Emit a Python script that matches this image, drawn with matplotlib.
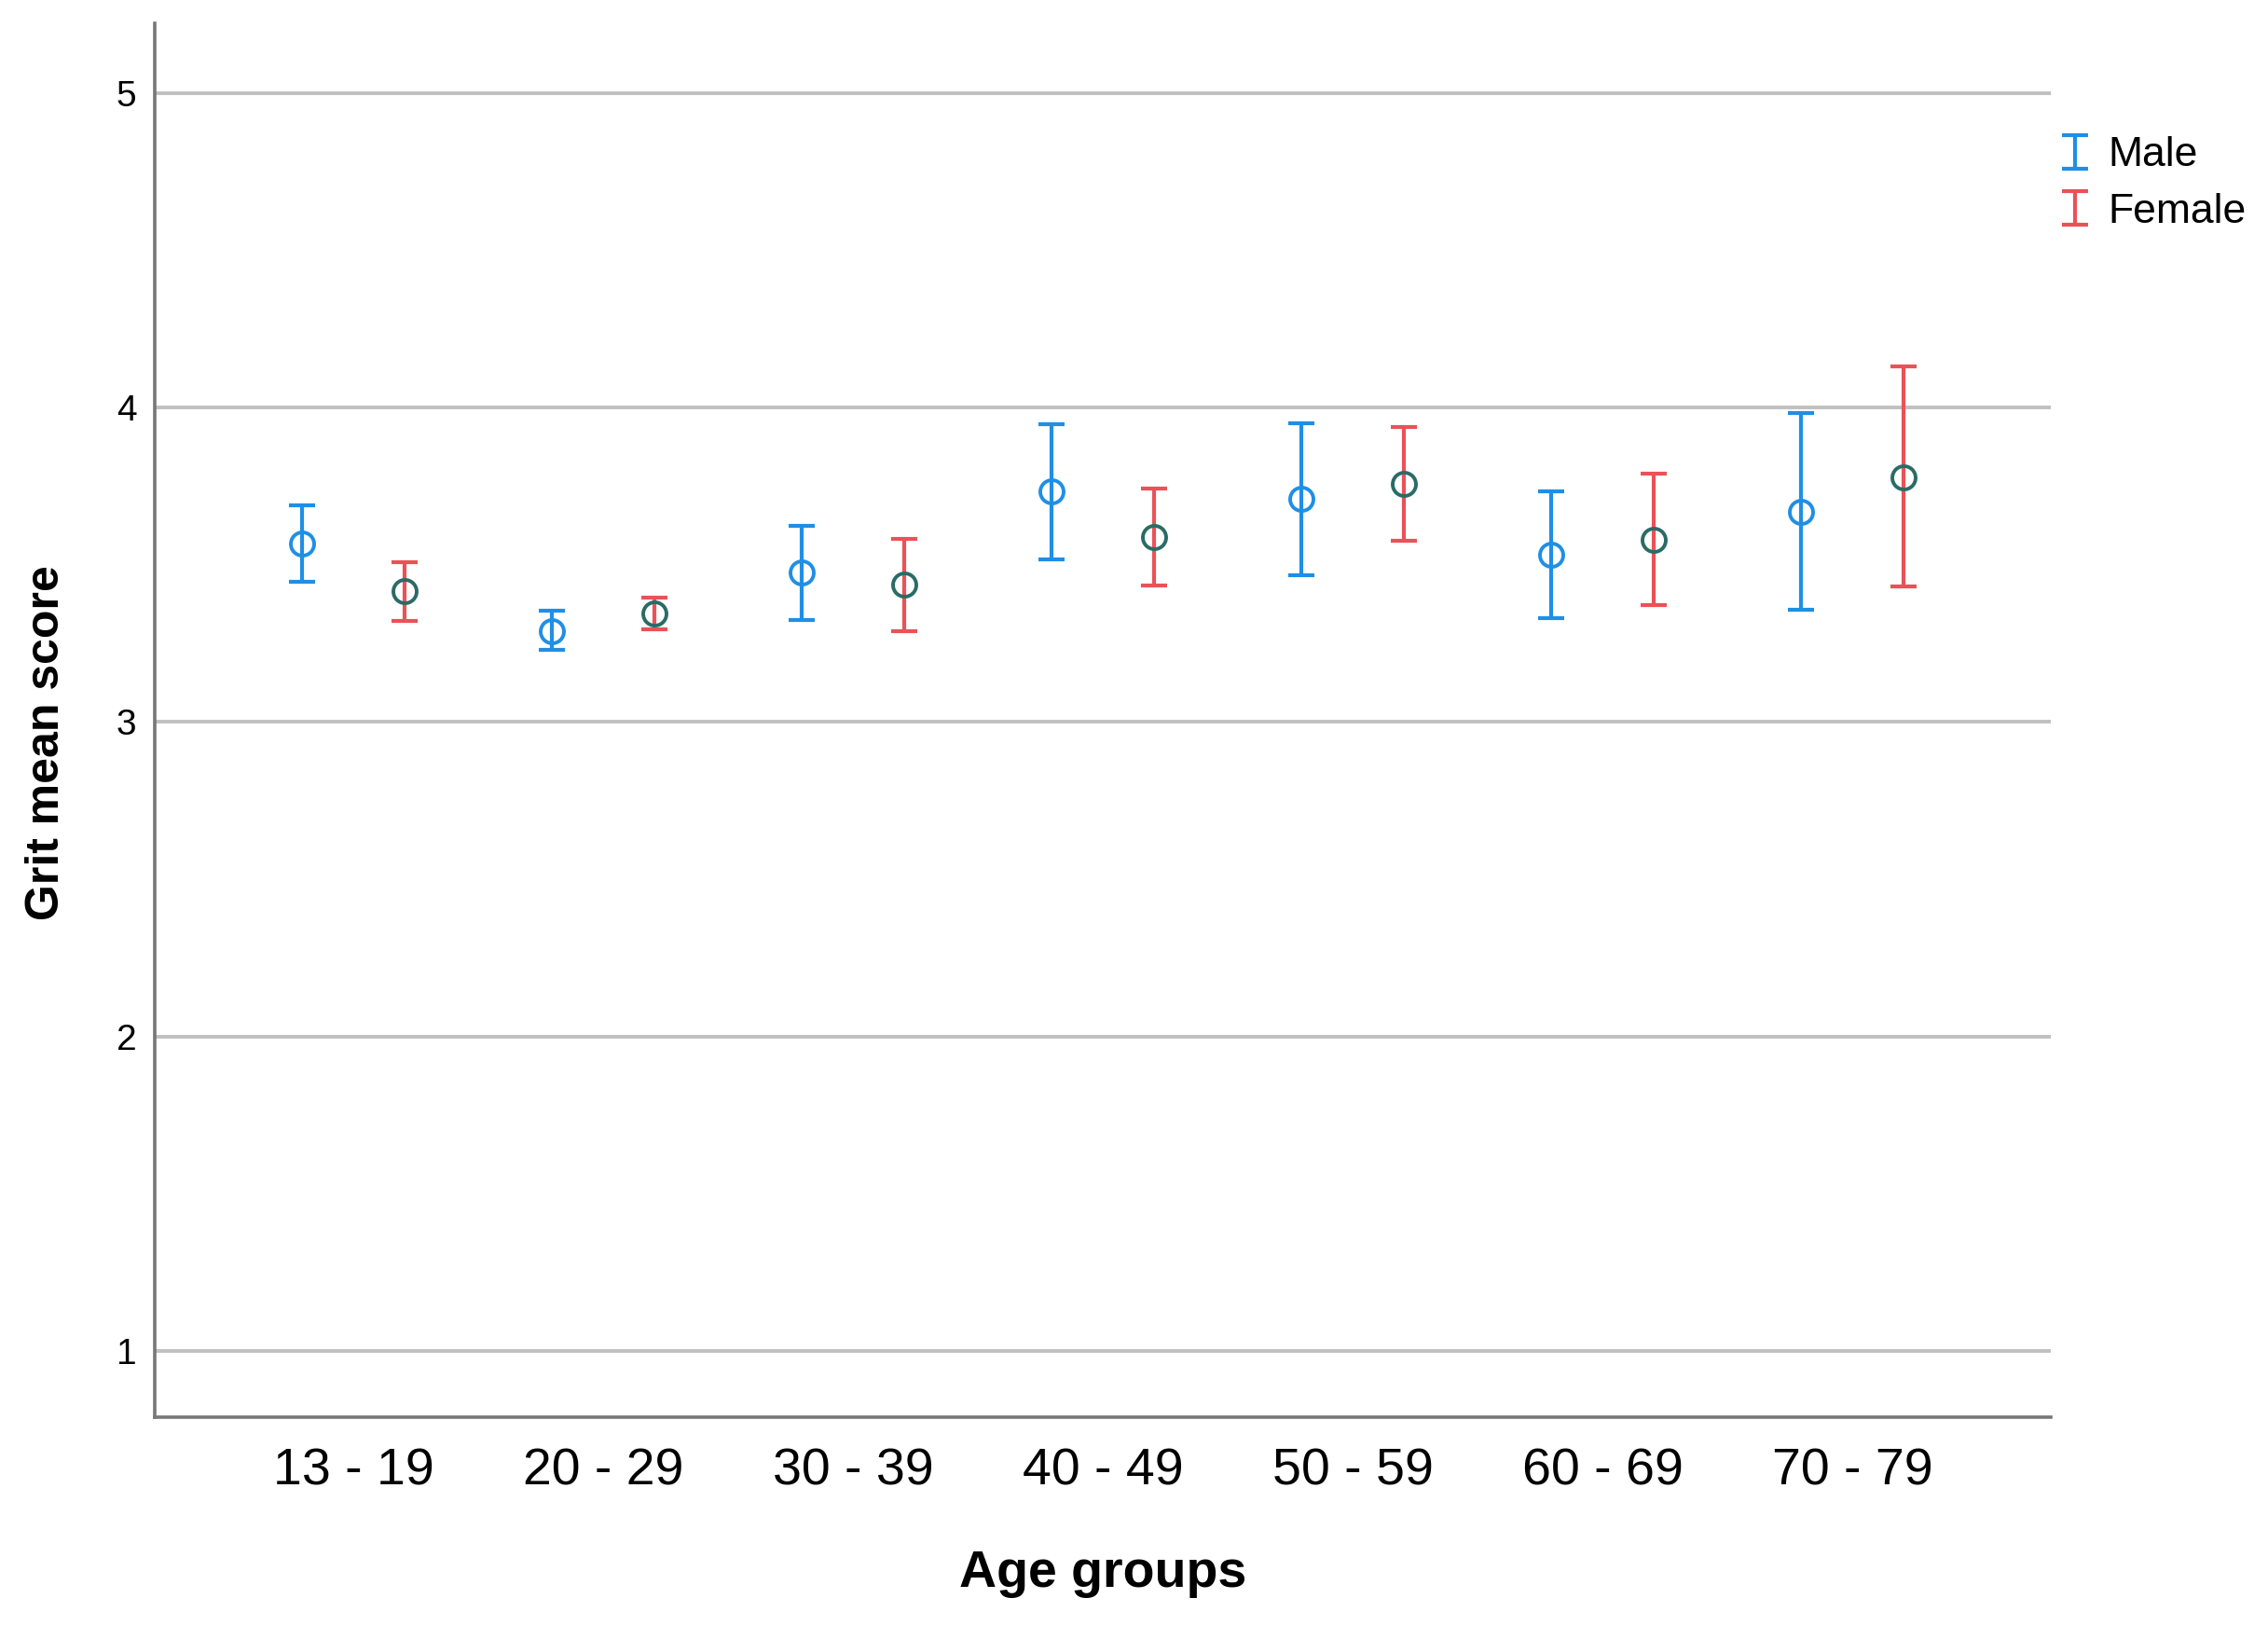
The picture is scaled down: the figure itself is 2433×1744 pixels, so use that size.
import numpy as np
import matplotlib
matplotlib.use("Agg")
import matplotlib.pyplot as plt
from matplotlib.container import ErrorbarContainer
from matplotlib.legend_handler import HandlerErrorbar

plt.rcParams['font.family'] = ['Liberation Sans', 'DejaVu Sans']

# Data (mean and 95% CI bounds)
age_groups = ['13 - 19', '20 - 29', '30 - 39', '40 - 49', '50 - 59', '60 - 69', '70 - 79']

male_mean = [3.566, 3.288, 3.475, 3.732, 3.709, 3.532, 3.668]
male_lo = [3.445, 3.229, 3.325, 3.518, 3.467, 3.330, 3.357]
male_hi = [3.690, 3.353, 3.624, 3.947, 3.950, 3.732, 3.982]

female_mean = [3.415, 3.345, 3.436, 3.587, 3.757, 3.579, 3.779]
female_lo = [3.320, 3.294, 3.289, 3.434, 3.576, 3.372, 3.431]
female_hi = [3.509, 3.395, 3.581, 3.742, 3.938, 3.790, 4.130]

blue = '#1f8fe5'
red = '#ea5257'
teal = '#2a6b66'

fig = plt.figure(figsize=(24.33, 17.44), dpi=100)
ax = fig.add_axes([0.0682, 0.1284, 0.9043 - 0.0682, 0.9854 - 0.1284])

x = np.arange(len(age_groups))
off = 0.205

m = np.array(male_mean)
f = np.array(female_mean)
m_err = [m - np.array(male_lo), np.array(male_hi) - m]
f_err = [f - np.array(female_lo), np.array(female_hi) - f]

eb_m = ax.errorbar(x - off, m, yerr=m_err, fmt='none', ecolor=blue,
                   elinewidth=3.0, capsize=10, capthick=3.0, label='Male', zorder=3)
eb_f = ax.errorbar(x + off, f, yerr=f_err, fmt='none', ecolor=red,
                   elinewidth=3.0, capsize=10, capthick=3.0, label='Female', zorder=3)
ax.plot(x - off, m, 'o', mfc='none', mec=blue, ms=18, mew=2.8, zorder=4)
ax.plot(x + off, f, 'o', mfc='none', mec=teal, ms=18, mew=2.8, zorder=4)

ax.set_xlim(-0.795, 6.795)
ax.set_ylim(0.79, 5.22)
ax.set_yticks([1, 2, 3, 4, 5])
ax.set_xticks(x)
ax.set_xticklabels(age_groups)

ax.grid(axis='y', color='#c0c0c0', lw=2.8)
ax.set_axisbelow(True)
for s in ['top', 'right']:
    ax.spines[s].set_visible(False)
for s in ['left', 'bottom']:
    ax.spines[s].set_color('#777777')
    ax.spines[s].set_linewidth(2.6)

ax.tick_params(axis='x', length=0, pad=23, labelsize=40)
ax.tick_params(axis='y', length=0, pad=14, labelsize=28)

ax.set_xlabel('Age groups', fontsize=40, fontweight='bold')
ax.set_ylabel('Grit mean score', fontsize=36, fontweight='bold')
ax.xaxis.set_label_coords(0.5, -0.095)
ax.yaxis.set_label_coords(-0.0457, 0.484)

fig.legend(handles=[eb_m, eb_f], loc='upper left', bbox_to_anchor=(0.9059, 0.916),
           frameon=False, fontsize=32, handlelength=1.0, handletextpad=0.3,
           labelspacing=0.43, borderpad=0, borderaxespad=0,
           handler_map={ErrorbarContainer: HandlerErrorbar(yerr_size=0.4)})

fig.savefig('out.png', dpi=100)
